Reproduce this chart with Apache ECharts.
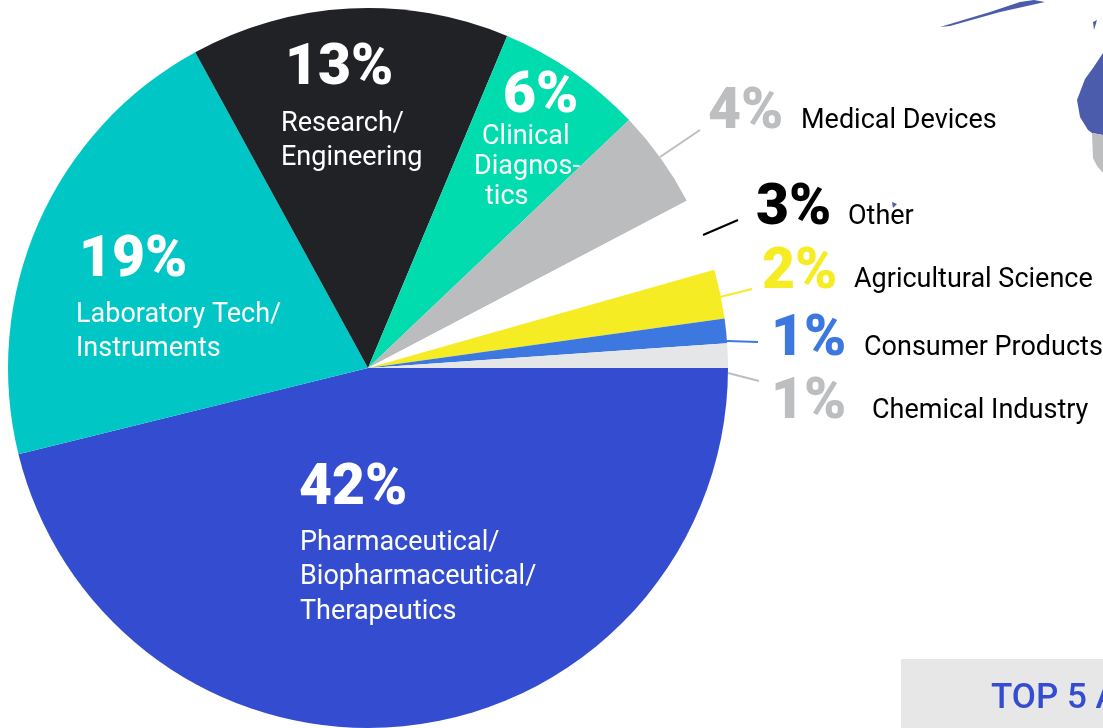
<!DOCTYPE html>
<html>
<head>
<meta charset="utf-8">
<style>
  html, body { margin: 0; padding: 0; background: #fff; }
  #chart { width: 1103px; height: 728px; }
</style>
<script src="https://cdn.jsdelivr.net/npm/echarts@6/dist/echarts.min.js"></script>
</head>
<body>
<div id="chart"></div>
<script>
const categories = ['Pharmaceutical/\nBiopharmaceutical/\nTherapeutics', 'Laboratory Tech/\nInstruments', 'Research/\nEngineering', 'Clinical\nDiagnos-\ntics', 'Medical Devices', 'Other', 'Agricultural Science', 'Consumer Products', 'Chemical Industry']
const values = [42, 19, 13, 6, 4, 3, 2, 1, 1]
const sliceColors = ['#344dd0', '#00c7c5', '#212226', '#00dcae', '#bbbcbe', '#ffffff', '#f5ec24', '#3c78e0', '#e5e6e8']
const percentColors = ['#fff', '#fff', '#fff', '#fff', '#bdbec0', '#000', '#f5ec24', '#3c78e0', '#bdbec0']
const nameColors = ['#fff', '#fff', '#fff', '#fff', '#000', '#000', '#000', '#000', '#000']

const font = 'Roboto, sans-serif'

// label placement, same order as categories: [percent x, percent y, name x, name y]
const labelPos = [
  [299, 490, 300, 543],
  [79, 262, 76, 315],
  [285, 70, 281, 124],
  [503, 98, 482, 137],
  [708, 114, 801, 121],
  [756, 210, 848, 217],
  [762, 274, 854, 280],
  [771, 341, 864, 348],
  [771, 404, 872, 411]
]
// the clinical label is set by hand in the original, its lines do not share a left edge
const clinicalLineX = [482, 474, 485]

// leader lines beside the pie: [x1, y1, x2, y2, color]
const leaders = [
  [660, 157, 700, 130, '#bdbec0'],
  [703, 235, 738, 220, '#000'],
  [720, 297, 752, 289, '#f5ec24'],
  [727, 341, 758, 342, '#3c78e0'],
  [728, 373, 759, 381, '#bdbec0']
]

let graphic = []

// map pieces showing through behind the chart
const mapShape = (points, fill) => ({ type: 'polygon', silent: true, z: 0, shape: { points }, style: { fill } })
graphic.push(mapShape([[1103, 53], [1093, 68], [1085, 79], [1077, 100], [1080, 117], [1088, 130], [1092, 133], [1103, 135]], '#4a5cab'))
graphic.push(mapShape([[1092, 133], [1103, 135], [1103, 173], [1097, 166], [1093, 158]], '#bdbec0'))
graphic.push(mapShape([[940, 27], [990, 12], [1020, 2], [1034, 0], [1045, 2], [1000, 12], [950, 26]], '#4a5cab'))
graphic.push(mapShape([[1093, 22], [1097, 20], [1094, 30]], '#4a5cab'))
graphic.push(mapShape([[892, 202], [897, 204], [893, 208]], '#4a5cab'))

graphic.push({ type: 'rect', silent: true, z: 0, shape: { x: 901, y: 659, width: 202, height: 69 }, style: { fill: '#e7e7e8' } })
graphic.push({
  type: 'text', silent: true, z: 1, x: 991, y: 699,
  style: { text: 'TOP 5 A', fill: '#344dd0', font: '500 35px ' + font, verticalAlign: 'middle' }
})

leaders.forEach(l => {
  graphic.push({
    type: 'line', silent: true, z: 1,
    shape: { x1: l[0], y1: l[1], x2: l[2], y2: l[3] },
    style: { stroke: l[4], lineWidth: 2 }
  })
})

categories.forEach((name, i) => {
  const p = labelPos[i]
  graphic.push({
    type: 'text', silent: true, z: 10, x: p[0], y: p[1],
    style: { text: values[i] + '%', fill: percentColors[i], font: '900 57px ' + font, verticalAlign: 'middle' }
  })
  name.split('\n').forEach((line, n) => {
    graphic.push({
      type: 'text', silent: true, z: 10,
      x: i === 3 ? clinicalLineX[n] : p[2],
      y: p[3] + n * (i === 3 ? 30 : 34.5),
      style: { text: line, fill: nameColors[i], font: '400 27px ' + font, verticalAlign: 'middle' }
    })
  })
})

let myChart = echarts.init(document.getElementById('chart'), null, { renderer: 'canvas' })
myChart.setOption({
  animation: false,
  backgroundColor: '#fff',
  series: [
    {
      type: 'pie',
      center: [368, 368],
      radius: [0, 360],
      startAngle: 0,
      clockwise: true,
      silent: true,
      z: 5,
      label: { show: false },
      labelLine: { show: false },
      data: categories.map((name, i) => ({
        name,
        value: values[i],
        itemStyle: { color: sliceColors[i] }
      }))
    }
  ],
  graphic
})
</script>
</body>
</html>
